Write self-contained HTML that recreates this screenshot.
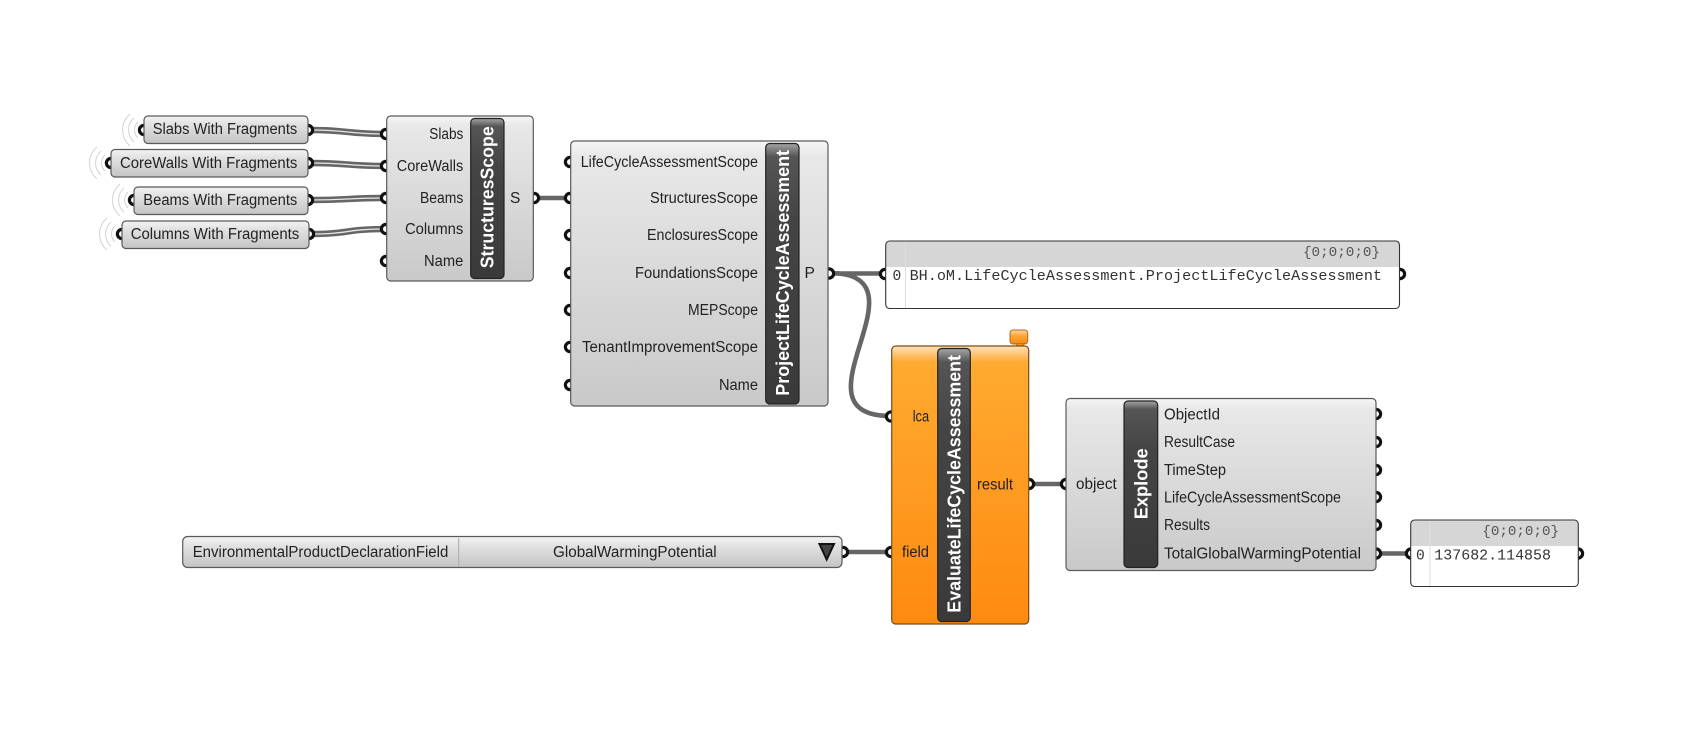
<!DOCTYPE html>
<html lang="en">
<head>
<meta charset="utf-8">
<title>Life Cycle Assessment Definition</title>
<style>
html,body{margin:0;padding:0;background:#fff;width:1701px;height:733px;overflow:hidden}
svg{display:block}
text{font-family:"Liberation Sans",sans-serif;font-size:15.5px;fill:#222}
.m{font-family:"Liberation Mono",monospace;font-size:14.6px;fill:#333}
.h{font-family:"Liberation Mono",monospace;font-size:14px;fill:#555}
.b{font-weight:bold;font-size:18.5px;fill:#fff}
.comp{stroke:#5a5a5a;stroke-width:1.2}
.bar{fill:url(#barG);stroke:#222;stroke-width:1.2}
.port{fill:#fff;stroke:#111;stroke-width:3.2}
.w{fill:none;stroke:#666;stroke-width:4.6}
.d{fill:none;stroke:#666;stroke-width:6.4}
.di{fill:none;stroke:#e6e6e6;stroke-width:1.3}
.a{fill:none;stroke:#d2d2d2;stroke-width:1}
</style>
</head>
<body>
<svg width="1701" height="733" viewBox="0 0 1701 733" xmlns="http://www.w3.org/2000/svg">
<defs>
<linearGradient id="grey" x1="0" y1="0" x2="0" y2="1">
<stop offset="0" stop-color="#f6f6f6"/><stop offset=".06" stop-color="#e8e8e8"/><stop offset="1" stop-color="#c9c9c9"/>
</linearGradient>
<linearGradient id="pill" x1="0" y1="0" x2="0" y2="1">
<stop offset="0" stop-color="#f4f4f4"/><stop offset=".25" stop-color="#e4e4e4"/><stop offset="1" stop-color="#c4c4c4"/>
</linearGradient>
<linearGradient id="orange" x1="0" y1="0" x2="0" y2="1">
<stop offset="0" stop-color="#ffe3ba"/><stop offset=".04" stop-color="#ffb85c"/><stop offset=".06" stop-color="#ffaa30"/><stop offset="1" stop-color="#ff8a10"/>
</linearGradient>
<linearGradient id="tab" x1="0" y1="0" x2="0" y2="1">
<stop offset="0" stop-color="#ffd9a3"/><stop offset=".4" stop-color="#ffa73a"/><stop offset="1" stop-color="#f78a10"/>
</linearGradient>
<linearGradient id="barG" gradientUnits="objectBoundingBox" x1="0" y1="0" x2="0" y2="1">
<stop offset="0" stop-color="#a5a5a5"/><stop offset=".05" stop-color="#555"/><stop offset=".3" stop-color="#444"/><stop offset="1" stop-color="#3a3a3a"/>
</linearGradient>
</defs>

<!-- data-source radiating arcs -->
<g class="a">
<path d="M138 122a11 11 0 0 0 0 16M134 118a16 16 0 0 0 0 24M130 114a21 21 0 0 0 0 32"/>
<path d="M105 155a11 11 0 0 0 0 16M101 151a16 16 0 0 0 0 24M97 147a21 21 0 0 0 0 32"/>
<path d="M128 192a11 11 0 0 0 0 16M124 188a16 16 0 0 0 0 24M120 184a21 21 0 0 0 0 32"/>
<path d="M115 226a11 11 0 0 0 0 16M111 222a16 16 0 0 0 0 24M107 218a21 21 0 0 0 0 32"/>
</g>

<!-- wires -->
<path class="d" d="M310 130C350 130 345 134 386 134"/><path class="di" d="M310 130C350 130 345 134 386 134"/>
<path class="d" d="M310 163C350 163 345 166 386 166"/><path class="di" d="M310 163C350 163 345 166 386 166"/>
<path class="d" d="M310 200C350 200 345 198 386 198"/><path class="di" d="M310 200C350 200 345 198 386 198"/>
<path class="d" d="M311 234C350 234 345 229 386 229"/><path class="di" d="M311 234C350 234 345 229 386 229"/>
<path class="w" d="M534 198L570 198"/>
<path class="w" d="M829 273.5L885 273.5"/>
<path class="w" d="M829 273C935 273 785 416 891 416"/>
<path class="w" d="M843 552L891 552"/>
<path class="w" d="M1029 484L1066 484"/>
<path class="w" d="M1376 553.5L1411 553.5"/>

<!-- ports -->
<g class="port">
<circle cx="144" cy="130" r="4.6"/><circle cx="111" cy="163" r="4.6"/><circle cx="134" cy="200" r="4.6"/><circle cx="122" cy="234" r="4.6"/>
<circle cx="308" cy="130" r="4.6"/><circle cx="308" cy="163" r="4.6"/><circle cx="308" cy="200" r="4.6"/><circle cx="309" cy="234" r="4.6"/>
<circle cx="386" cy="134" r="4.6"/><circle cx="386" cy="166" r="4.6"/><circle cx="386" cy="198" r="4.6"/><circle cx="386" cy="229" r="4.6"/><circle cx="386" cy="261" r="4.6"/>
<circle cx="534" cy="198" r="4.6"/>
<circle cx="570" cy="162" r="4.6"/><circle cx="570" cy="198" r="4.6"/><circle cx="570" cy="235" r="4.6"/><circle cx="570" cy="273" r="4.6"/><circle cx="570" cy="310" r="4.6"/><circle cx="570" cy="347" r="4.6"/><circle cx="570" cy="385" r="4.6"/>
<circle cx="829" cy="273.5" r="4.6"/>
<circle cx="885" cy="274" r="4.6"/><circle cx="1400" cy="274" r="4.6"/>
<circle cx="891" cy="416.5" r="4.6"/><circle cx="891" cy="552" r="4.6"/><circle cx="1029" cy="484" r="4.6"/>
<circle cx="1066" cy="484" r="4.6"/>
<circle cx="1376" cy="414" r="4.6"/><circle cx="1376" cy="442" r="4.6"/><circle cx="1376" cy="470" r="4.6"/><circle cx="1376" cy="497" r="4.6"/><circle cx="1376" cy="525" r="4.6"/><circle cx="1376" cy="553.5" r="4.6"/>
<circle cx="843" cy="552" r="4.6"/>
<circle cx="1411" cy="553.5" r="4.6"/><circle cx="1578" cy="553.5" r="4.6"/>
</g>

<!-- data pills -->
<rect class="comp" x="144" y="116" width="164" height="27.5" rx="4" fill="url(#pill)"/>
<rect class="comp" x="111" y="149.5" width="197" height="27.5" rx="4" fill="url(#pill)"/>
<rect class="comp" x="134" y="187" width="174" height="27.5" rx="4" fill="url(#pill)"/>
<rect class="comp" x="122" y="221" width="187" height="27.5" rx="4" fill="url(#pill)"/>
<text x="152.7" y="134" textLength="144.6" lengthAdjust="spacingAndGlyphs">Slabs With Fragments</text>
<text x="120" y="168" textLength="177.3" lengthAdjust="spacingAndGlyphs">CoreWalls With Fragments</text>
<text x="143.3" y="205" textLength="154" lengthAdjust="spacingAndGlyphs">Beams With Fragments</text>
<text x="130.7" y="239" textLength="168.6" lengthAdjust="spacingAndGlyphs">Columns With Fragments</text>

<!-- StructuresScope -->
<rect class="comp" x="386.7" y="116" width="146.6" height="165" rx="4" fill="url(#grey)"/>
<rect class="bar" x="470.7" y="118.5" width="33.3" height="160" rx="4"/>
<text transform="translate(493.5 268.3) rotate(-90)" class="b" textLength="142" lengthAdjust="spacingAndGlyphs">StructuresScope</text>
<text x="429.3" y="139" textLength="34" lengthAdjust="spacingAndGlyphs">Slabs</text>
<text x="396.7" y="171" textLength="66.6" lengthAdjust="spacingAndGlyphs">CoreWalls</text>
<text x="420" y="203" textLength="43.3" lengthAdjust="spacingAndGlyphs">Beams</text>
<text x="405" y="234" textLength="58.3" lengthAdjust="spacingAndGlyphs">Columns</text>
<text x="424" y="266" textLength="39.3" lengthAdjust="spacingAndGlyphs">Name</text>
<text x="510" y="203">S</text>

<!-- ProjectLifeCycleAssessment -->
<rect class="comp" x="570.7" y="141" width="257.3" height="265" rx="4" fill="url(#grey)"/>
<rect class="bar" x="765.7" y="143.5" width="33.3" height="260.5" rx="4"/>
<text transform="translate(789 395.7) rotate(-90)" class="b" textLength="245.7" lengthAdjust="spacingAndGlyphs">ProjectLifeCycleAssessment</text>
<text x="580.7" y="167" textLength="177.3" lengthAdjust="spacingAndGlyphs">LifeCycleAssessmentScope</text>
<text x="650" y="203" textLength="108" lengthAdjust="spacingAndGlyphs">StructuresScope</text>
<text x="647" y="240" textLength="111" lengthAdjust="spacingAndGlyphs">EnclosuresScope</text>
<text x="635" y="278" textLength="123" lengthAdjust="spacingAndGlyphs">FoundationsScope</text>
<text x="688" y="315" textLength="70" lengthAdjust="spacingAndGlyphs">MEPScope</text>
<text x="582" y="352" textLength="176" lengthAdjust="spacingAndGlyphs">TenantImprovementScope</text>
<text x="719" y="390" textLength="39" lengthAdjust="spacingAndGlyphs">Name</text>
<text x="804.5" y="278">P</text>

<!-- Panel -->
<rect x="885.7" y="241" width="513.8" height="67.5" rx="4" fill="#fff"/>
<path d="M886 267V245a4 4 0 0 1 4-4H1395.5a4 4 0 0 1 4 4V267Z" fill="#d6d6d6"/>
<line x1="905.5" y1="241" x2="905.5" y2="308" stroke="#ddd"/>
<rect x="885.7" y="241" width="513.8" height="67.5" rx="4" fill="none" stroke="#333" stroke-width="1.1"/>
<text class="h" x="1303" y="256" textLength="77" lengthAdjust="spacingAndGlyphs">{0;0;0;0}</text>
<text class="m" x="892.5" y="280">0</text>
<text class="m" x="909.6" y="280" textLength="472.4" lengthAdjust="spacingAndGlyphs">BH.oM.LifeCycleAssessment.ProjectLifeCycleAssessment</text>

<!-- EvaluateLifeCycleAssessment -->
<rect x="1010" y="330" width="17.7" height="14" rx="3" fill="url(#tab)" stroke="#b56a10" stroke-width="1"/>
<path d="M1015 343.5L1020 348L1025 343.5Z" fill="#f78a10" stroke="#b56a10" stroke-width=".8"/>
<rect x="891.7" y="346" width="137" height="278" rx="4" fill="url(#orange)" stroke="#7a4c18" stroke-width="1.2"/>
<rect class="bar" x="937.7" y="348.5" width="32.6" height="273" rx="4"/>
<text transform="translate(960.7 612.7) rotate(-90)" class="b" textLength="257.7" lengthAdjust="spacingAndGlyphs">EvaluateLifeCycleAssessment</text>
<text x="912.7" y="421.5" textLength="16.5" lengthAdjust="spacingAndGlyphs">lca</text>
<text x="902" y="557" textLength="27" lengthAdjust="spacingAndGlyphs">field</text>
<text x="977" y="489.5" textLength="36" lengthAdjust="spacingAndGlyphs">result</text>

<!-- Explode -->
<rect class="comp" x="1066" y="398.5" width="310" height="172" rx="4" fill="url(#grey)"/>
<rect class="bar" x="1124" y="401" width="33.7" height="166.5" rx="4"/>
<text transform="translate(1147.5 519.3) rotate(-90)" class="b" textLength="71" lengthAdjust="spacingAndGlyphs">Explode</text>
<text x="1076" y="489" textLength="40.7" lengthAdjust="spacingAndGlyphs">object</text>
<text x="1164" y="419.5" textLength="56" lengthAdjust="spacingAndGlyphs">ObjectId</text>
<text x="1164" y="447" textLength="71" lengthAdjust="spacingAndGlyphs">ResultCase</text>
<text x="1164" y="475" textLength="62" lengthAdjust="spacingAndGlyphs">TimeStep</text>
<text x="1164" y="502.5" textLength="177" lengthAdjust="spacingAndGlyphs">LifeCycleAssessmentScope</text>
<text x="1164" y="530" textLength="46" lengthAdjust="spacingAndGlyphs">Results</text>
<text x="1164" y="558.5" textLength="197" lengthAdjust="spacingAndGlyphs">TotalGlobalWarmingPotential</text>

<!-- Small panel -->
<rect x="1410.7" y="520" width="167.6" height="66.5" rx="4" fill="#fff"/>
<path d="M1411 546V524a4 4 0 0 1 4-4H1574a4 4 0 0 1 4 4V546Z" fill="#d6d6d6"/>
<line x1="1430" y1="520" x2="1430" y2="586" stroke="#ddd"/>
<rect x="1410.7" y="520" width="167.6" height="66.5" rx="4" fill="none" stroke="#333" stroke-width="1.1"/>
<text class="h" x="1482.3" y="535" textLength="76.7" lengthAdjust="spacingAndGlyphs">{0;0;0;0}</text>
<text class="m" x="1416" y="559.5">0</text>
<text class="m" x="1434.3" y="559.5" textLength="116.7" lengthAdjust="spacingAndGlyphs">137682.114858</text>

<!-- Value list -->
<rect class="comp" x="182.7" y="536.5" width="659.3" height="31" rx="5" fill="url(#pill)"/>
<line x1="458.7" y1="538" x2="458.7" y2="566" stroke="#aaa"/>
<text x="192.7" y="557" textLength="255.6" lengthAdjust="spacingAndGlyphs">EnvironmentalProductDeclarationField</text>
<text x="553" y="557" textLength="163.7" lengthAdjust="spacingAndGlyphs">GlobalWarmingPotential</text>
<path d="M819.5 544H834L826.7 559.5Z" fill="#444" stroke="#111" stroke-width="2"/>
</svg>
</body>
</html>
